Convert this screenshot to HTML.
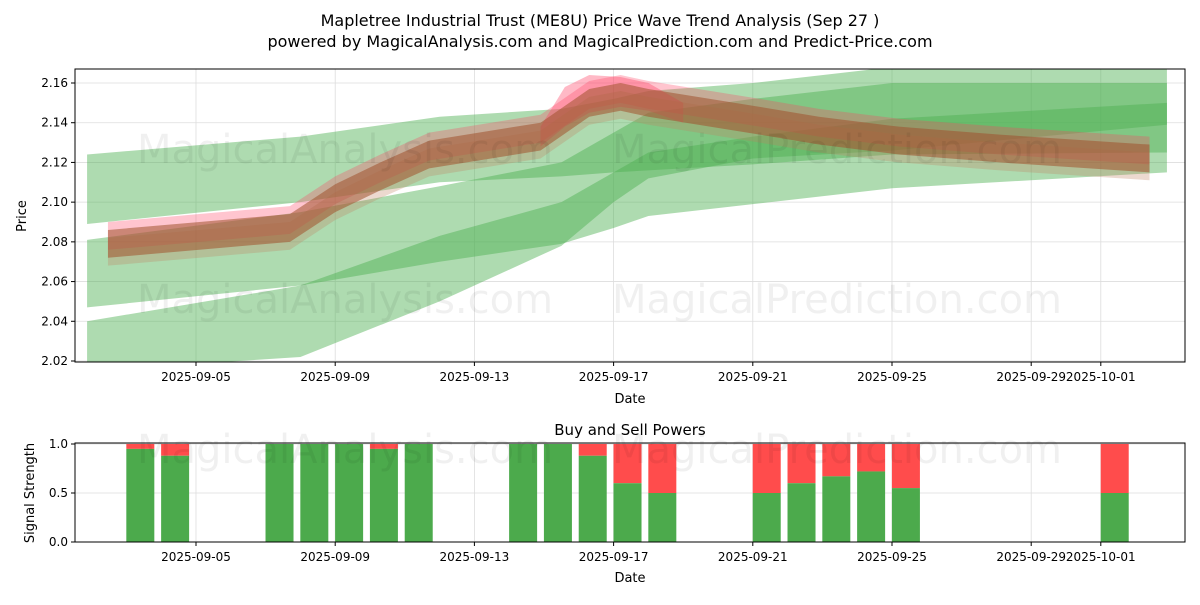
<!DOCTYPE html>
<html><head><meta charset="utf-8"><style>
body{margin:0;background:#fff;font-family:"Liberation Sans","DejaVu Sans",sans-serif}
svg text{font-family:"DejaVu Sans","Liberation Sans",sans-serif}
</style></head><body>
<svg id="c" width="1200" height="600" xmlns="http://www.w3.org/2000/svg">
<rect width="1200" height="600" fill="#fff"/>
<text x="600" y="26" font-size="16" text-anchor="middle">Mapletree Industrial Trust (ME8U) Price Wave Trend Analysis (Sep 27 )</text>
<text x="600" y="47" font-size="16" text-anchor="middle">powered by MagicalAnalysis.com and MagicalPrediction.com and Predict-Price.com</text>
<g id="topPanel"></g>
<g id="botPanel"></g>
</svg>
<script>
const tickDates=["2025-09-05","2025-09-09","2025-09-13","2025-09-17","2025-09-21","2025-09-25","2025-09-29","2025-10-01"];
const tickDays=[5,9,13,17,21,25,29,31];
const priceTicks=[2.02,2.04,2.06,2.08,2.10,2.12,2.14,2.16];
const bandDays=[1.87,8,12,15.5,17,18,21,25,32.9];
const band1Top=[2.124,2.133,2.143,2.147,2.152,2.156,2.16,2.168,2.172];
const band1Bot=[2.089,2.100,2.110,2.113,2.115,2.116,2.119,2.124,2.125];
const band2Top=[2.081,2.095,2.108,2.120,2.135,2.145,2.152,2.160,2.160];
const band2Bot=[2.047,2.058,2.070,2.079,2.087,2.093,2.099,2.107,2.115];
const band3Top=[2.040,2.058,2.083,2.100,2.115,2.125,2.133,2.142,2.150];
const band3Bot=[2.015,2.022,2.050,2.078,2.100,2.112,2.122,2.126,2.139];
const waveDays=[2.47,5.1,7.7,9.0,10.3,11.7,14.9,16.3,17.2,18.0,21.2,22.9,25.2,28.1,32.4];
const waveMid=[2.079,2.083,2.087,2.102,2.113,2.124,2.133,2.150,2.153,2.150,2.141,2.136,2.131,2.127,2.122];
const spikeDays=[14.9,15.6,16.3,17.2,18.0,19.0];
const spikeTop=[2.138,2.158,2.164,2.163,2.160,2.150];
const spikeBot=[2.128,2.138,2.145,2.148,2.146,2.140];
const sigDays=[3,4,7,8,9,10,11,14,15,16,17,18,21,22,23,24,25,31];
const buyPower=[0.95,0.88,1,1,1,0.95,1,1,1,0.88,0.6,0.5,0.5,0.6,0.67,0.72,0.55,0.5];
const sigTicks=[0,0.5,1.0];

const NS="http://www.w3.org/2000/svg";
const X=d=>196+(d-5)*34.8;
const Y=v=>83+(2.16-v)*1985.7;
const YB=v=>542-v*98;
function mk(p,t,a){const e=document.createElementNS(NS,t);for(const k in a)e.setAttribute(k,a[k]);p.appendChild(e);return e;}
const topG=document.getElementById('topPanel'),botG=document.getElementById('botPanel');
const defs=mk(topG,'defs',{});
const cp=mk(defs,'clipPath',{id:'cp'});mk(cp,'rect',{x:75,y:69,width:1110,height:293});
tickDays.forEach(d=>{const l=mk(topG,'line',{x1:X(d),x2:X(d),y1:69,y2:362,stroke:'#ddd','stroke-width':0.8});});
priceTicks.forEach(v=>{const l=mk(topG,'line',{x1:75,x2:1185,y1:Y(v),y2:Y(v),stroke:'#ddd','stroke-width':0.8});});
[[345,163,'MagicalAnalysis.com'],[837,163,'MagicalPrediction.com'],[345,313,'MagicalAnalysis.com'],[837,313,'MagicalPrediction.com'],[345,463,'MagicalAnalysis.com'],[837,463,'MagicalPrediction.com']].forEach(w=>{const t=mk(document.getElementById('c'),'text',{x:w[0],y:w[1],'font-size':40,fill:'#000','fill-opacity':0.06,'text-anchor':'middle'});t.textContent=w[2];});
const g=mk(topG,'g',{'clip-path':'url(#cp)'});
function band(days,hi,lo,fill,op,name){let pts=days.map((d,i)=>X(d)+','+Y(hi[i]));pts=pts.concat(days.map((d,i)=>X(d)+','+Y(lo[i])).reverse());const p=mk(g,'polygon',{points:pts.join(' '),fill:fill,'fill-opacity':op});}
band(bandDays,band1Top,band1Bot,'#4caf50',0.45,'forecast-band-1');
band(bandDays,band2Top,band2Bot,'#4caf50',0.45,'forecast-band-2');
band(bandDays,band3Top,band3Bot,'#4caf50',0.45,'forecast-band-3');
band(spikeDays,spikeTop,spikeBot,'#ff5070',0.4,'wave-spike');
const offs=[[0.004,'#ff4060',0.3],[-0.004,'#c08060',0.3],[0,'#a0522d',0.55]];
offs.forEach((o,k)=>{band(waveDays,waveMid.map(v=>v+o[0]+0.007),waveMid.map(v=>v+o[0]-0.007),o[1],o[2],'wave-band-'+k);});
mk(topG,'rect',{x:75,y:69,width:1110,height:293,fill:'none',stroke:'#000','stroke-width':1});
tickDays.forEach((d,i)=>{mk(topG,'line',{x1:X(d),x2:X(d),y1:362,y2:366,stroke:'#000'});const t=mk(topG,'text',{x:X(d),y:381,'font-size':12,'text-anchor':'middle'});t.textContent=tickDates[i];});
priceTicks.forEach(v=>{mk(topG,'line',{x1:71,x2:75,y1:Y(v),y2:Y(v),stroke:'#000'});const t=mk(topG,'text',{x:68,y:Y(v)+4,'font-size':12,'text-anchor':'end'});t.textContent=v.toFixed(2);});
let tx=mk(topG,'text',{x:630,y:403,'font-size':13,'text-anchor':'middle'});tx.textContent='Date';
tx=mk(topG,'text',{x:26,y:216,'font-size':13,'text-anchor':'middle',transform:'rotate(-90 26 216)'});tx.textContent='Price';
tx=mk(botG,'text',{x:630,y:435,'font-size':15,'text-anchor':'middle'});tx.textContent='Buy and Sell Powers';
tickDays.forEach(d=>{const l=mk(botG,'line',{x1:X(d),x2:X(d),y1:443,y2:542,stroke:'#ddd','stroke-width':0.8});});
sigTicks.forEach(v=>{const l=mk(botG,'line',{x1:75,x2:1185,y1:YB(v),y2:YB(v),stroke:'#ddd','stroke-width':0.8});});
sigDays.forEach((d,i)=>{const cx=X(d+0.4);const b=buyPower[i];
const s=mk(botG,'rect',{x:cx-14,y:YB(1),width:28,height:YB(b)-YB(1),fill:'#ff4c4c'});
const r=mk(botG,'rect',{x:cx-14,y:YB(b),width:28,height:YB(0)-YB(b),fill:'#4caa4c'});});
mk(botG,'rect',{x:75,y:443,width:1110,height:99,fill:'none',stroke:'#000','stroke-width':1});
tickDays.forEach((d,i)=>{mk(botG,'line',{x1:X(d),x2:X(d),y1:542,y2:546,stroke:'#000'});const t=mk(botG,'text',{x:X(d),y:561,'font-size':12,'text-anchor':'middle'});t.textContent=tickDates[i];});
sigTicks.forEach(v=>{mk(botG,'line',{x1:71,x2:75,y1:YB(v),y2:YB(v),stroke:'#000'});const t=mk(botG,'text',{x:68,y:YB(v)+4,'font-size':12,'text-anchor':'end'});t.textContent=v.toFixed(1);});
tx=mk(botG,'text',{x:630,y:582,'font-size':13,'text-anchor':'middle'});tx.textContent='Date';
tx=mk(botG,'text',{x:34,y:493,'font-size':13,'text-anchor':'middle',transform:'rotate(-90 34 493)'});tx.textContent='Signal Strength';
</script>
</body></html>
